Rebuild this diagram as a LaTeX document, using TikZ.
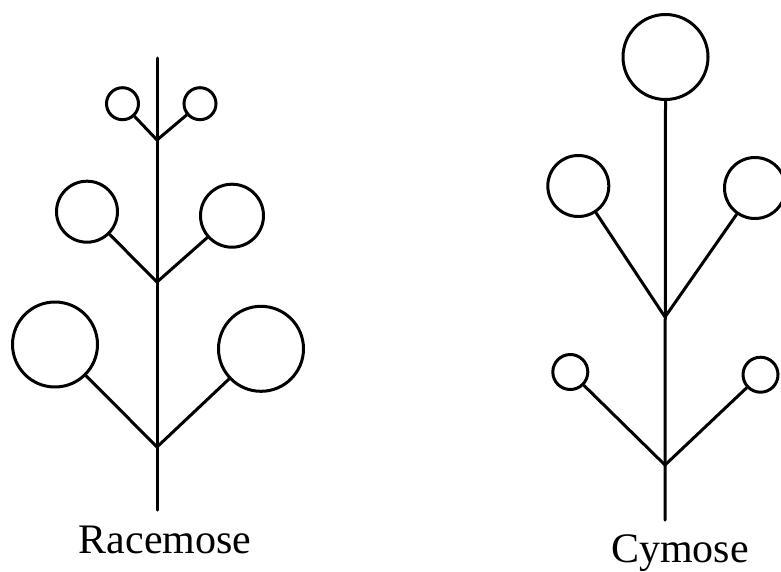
\documentclass[tikz,border=0pt]{standalone}
\usepackage{fontspec}
\setmainfont{Liberation Serif}
\begin{document}
\begin{tikzpicture}[x=1pt,y=-1pt,
  stem/.style={line width=3pt,line cap=round},
  flower/.style={circle,draw,line width=3pt,inner sep=0pt,fill=white},
  caption/.style={anchor=base,inner sep=0pt,font=\fontsize{42}{48}\selectfont}]
\useasboundingbox (0,0) rectangle (781,571);

% ---- Racemose inflorescence: oldest flowers at the base ----
\coordinate (rtop) at (157,58);
\coordinate (rj1) at (157,140);
\coordinate (rj2) at (157,282);
\coordinate (rj3) at (157,447);
\coordinate (rend) at (157,510);
\draw[stem] (rtop) -- (rend);

\node[flower,minimum size=32pt] (r1l) at (122.5,103.7) {};
\node[flower,minimum size=32pt] (r1r) at (200,103.7) {};
\node[flower,minimum size=61pt] (r2l) at (87,211.7) {};
\node[flower,minimum size=63pt] (r2r) at (232,215.7) {};
\node[flower,minimum size=85pt] (r3l) at (55,344.5) {};
\node[flower,minimum size=85pt] (r3r) at (261,348.8) {};

\draw[stem] (r1l) -- (rj1) -- (r1r);
\draw[stem] (r2l) -- (rj2) -- (r2r);
\draw[stem] (r3l) -- (rj3) -- (r3r);

\node[caption] (rlabel) at (165,553) {Racemose};

% ---- Cymose inflorescence: terminal flower oldest ----
\node[flower,minimum size=85pt] (ctop) at (665.5,57) {};
\coordinate (cj1) at (665,317);
\coordinate (cj2) at (665,465);
\coordinate (cend) at (665,520);
\draw[stem] (ctop.south) -- (cend);

\node[flower,minimum size=61pt] (c1l) at (578.3,186) {};
\node[flower,minimum size=61pt] (c1r) at (755,188) {};
\node[flower,minimum size=35pt] (c2l) at (570.3,372) {};
\node[flower,minimum size=35pt] (c2r) at (760.5,374.7) {};

\draw[stem] (c1l) -- (cj1) -- (c1r);
\draw[stem] (c2l) -- (cj2) -- (c2r);

\node[caption] (clabel) at (680,562) {Cymose};
\end{tikzpicture}
\end{document}
